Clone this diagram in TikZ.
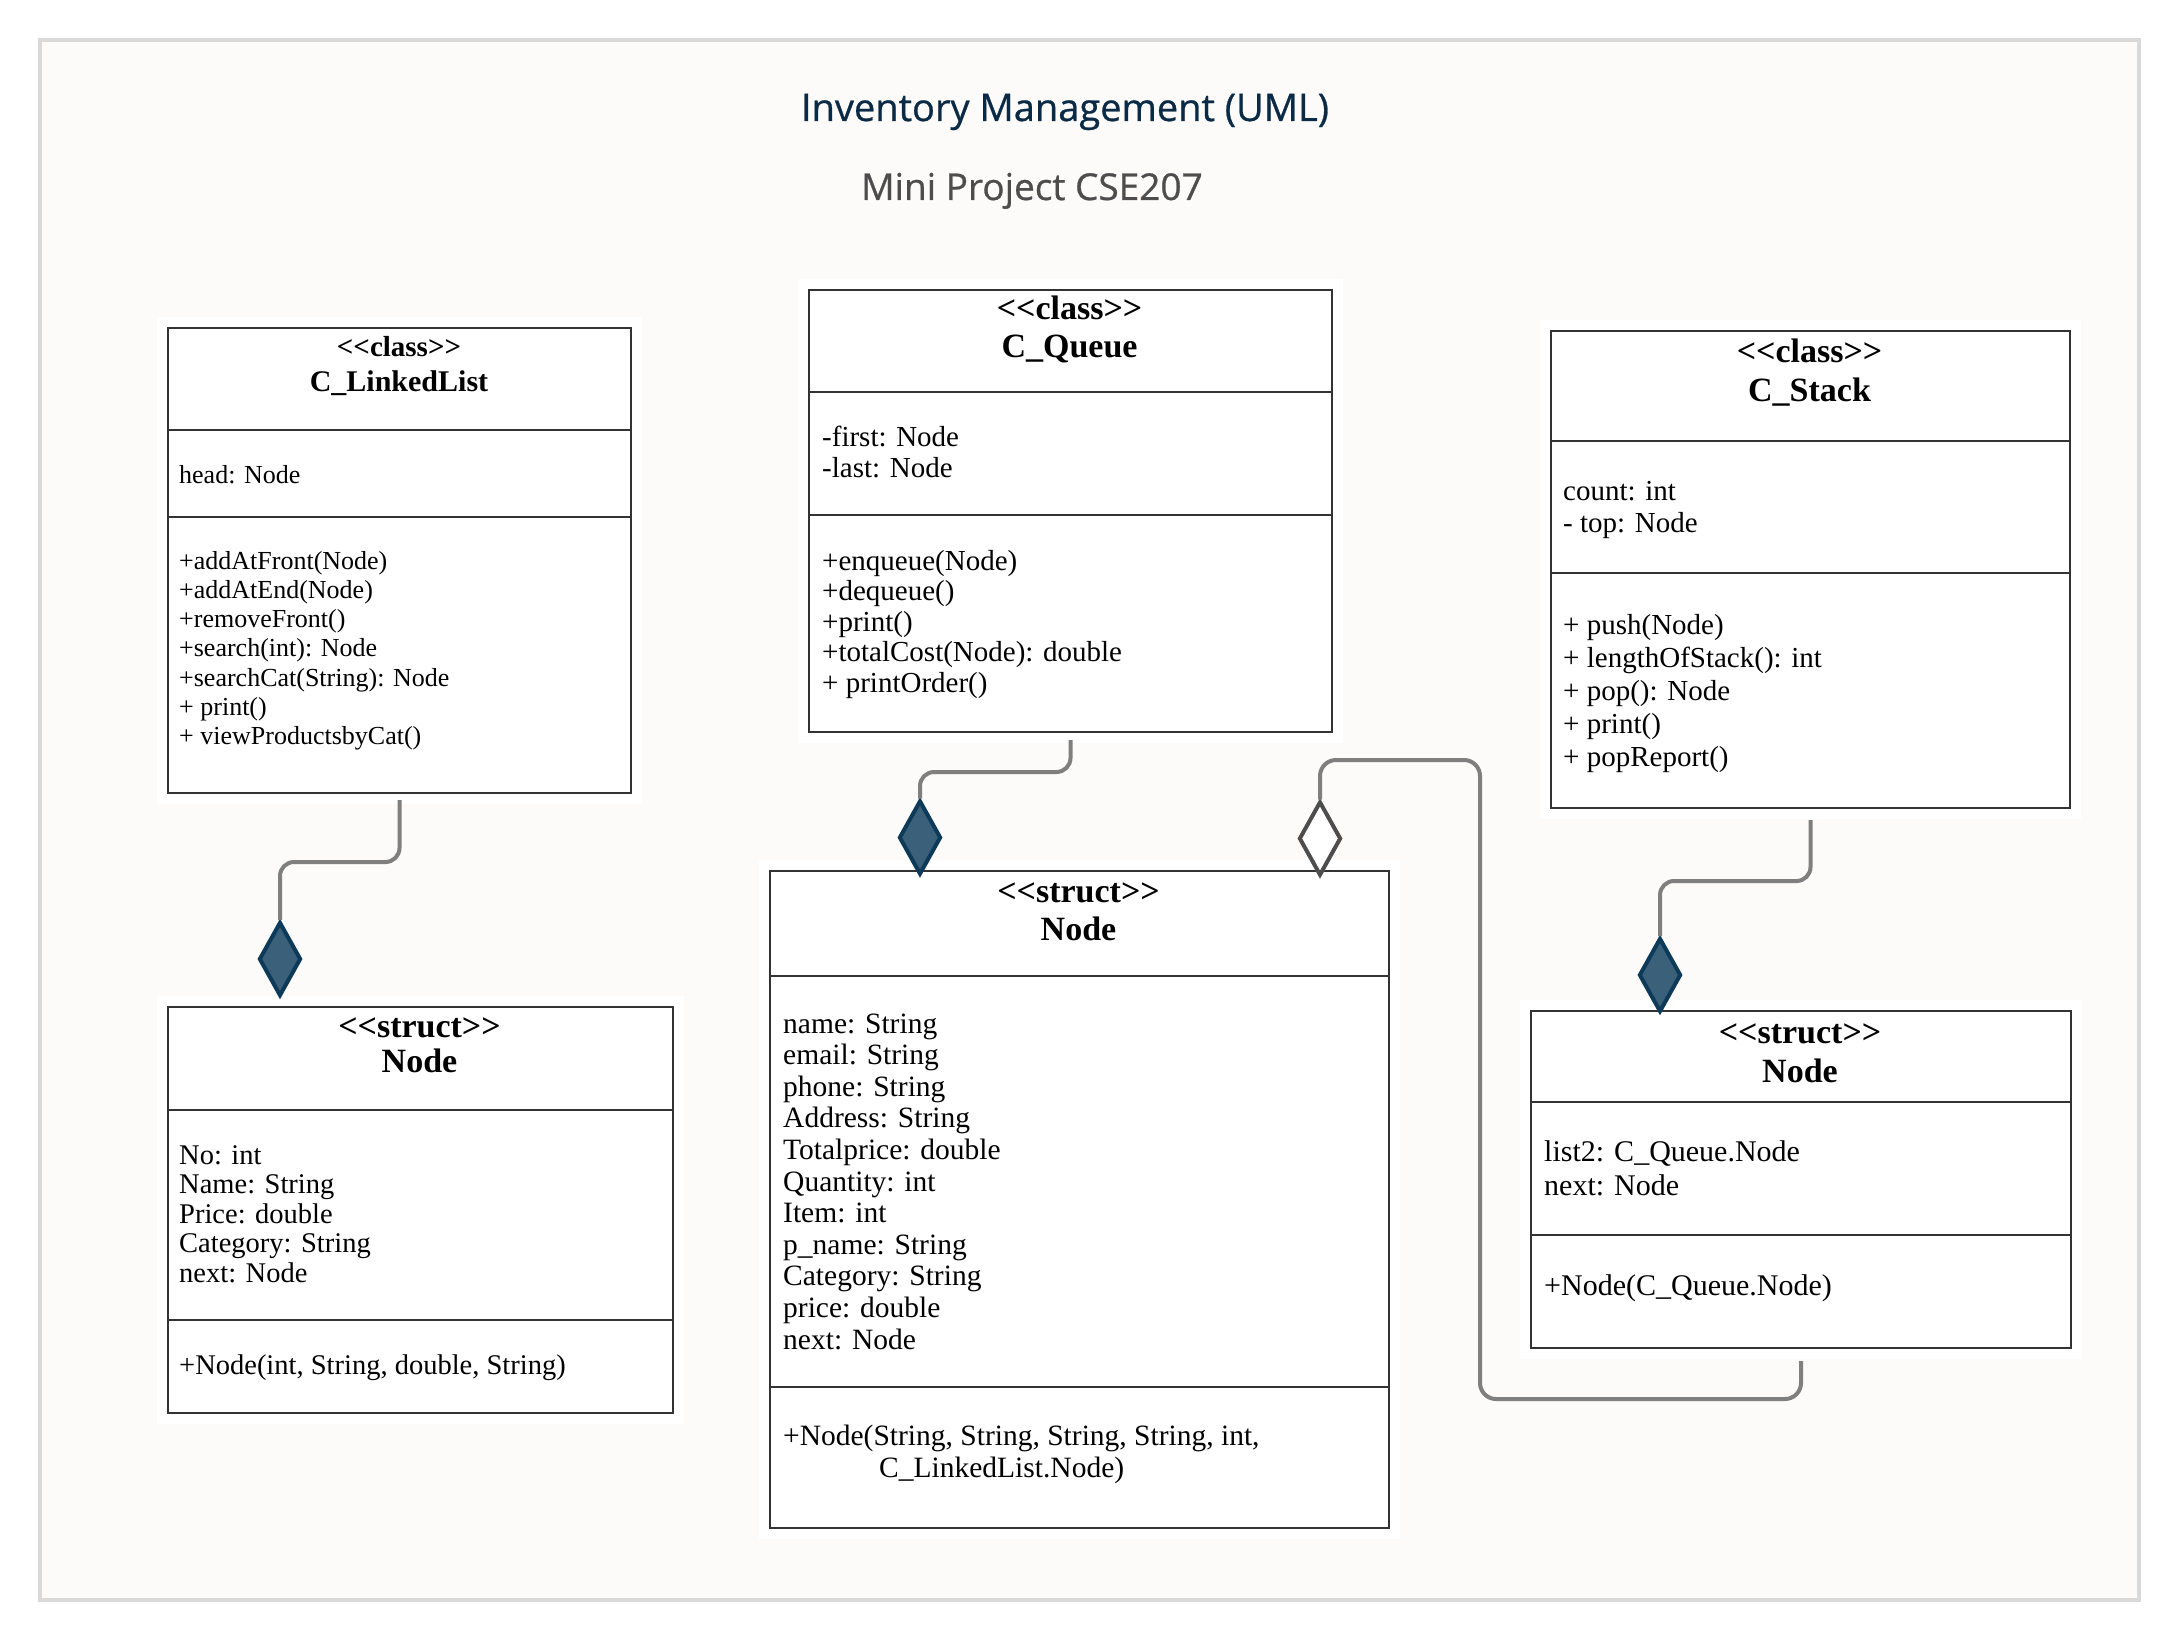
\documentclass[tikz,border=0pt]{standalone}
\usepackage{fontspec}
\setmainfont{Liberation Serif}
\newfontfamily\titlefont[FakeBold=0.7]{Open Sans}
\usetikzlibrary{shapes.geometric}
\definecolor{pagebg}{HTML}{FCFBFA}
\definecolor{framecol}{HTML}{D9D9D9}
\definecolor{boxcol}{HTML}{333333}
\definecolor{conncol}{HTML}{7F7F7F}
\definecolor{diafill}{HTML}{3B6079}
\definecolor{diadraw}{HTML}{0D3A59}
\definecolor{hollowcol}{HTML}{4D4D4D}
\definecolor{titlecol}{HTML}{0B2A45}
\definecolor{subcol}{HTML}{4D4D4D}
\newcommand\umllines[6]{\foreach \umlitem [count=\i from 0] in {#5} {\node[txtline, font=#6, anchor=base west] (#1\i) at ({#2},{#3+#4*\i}) {\umlitem};}}
\newcommand\stereo[1]{<{}<#1>{}>}
\tikzset{
  umlbox/.style={draw=boxcol, line width=2pt, fill=white, preaction={draw=white, line width=22pt}, inner sep=0pt, anchor=north west},
  divline/.style={draw=boxcol, line width=2pt},
  txtline/.style={inner sep=0pt, text=black},
  hdr/.style={inner sep=0pt, anchor=base, font=\bfseries\fontsize{34}{34}\selectfont},
  conn/.style={draw=conncol, line width=4pt, rounded corners=14pt},
  filleddia/.style={diamond, draw=diadraw, fill=diafill, line width=4pt, minimum width=42pt, minimum height=74pt, inner sep=0pt},
  hollowdia/.style={diamond, draw=hollowcol, fill=white, line width=4pt, minimum width=42pt, minimum height=74pt, inner sep=0pt}
}
\begin{document}
\begin{tikzpicture}[x=1pt,y=-1pt]
\useasboundingbox (0,0) rectangle (2181,1640);
\fill[white] (0,0) rectangle (2181,1640);
\draw[draw=framecol, fill=pagebg, line width=4pt] (40,40) rectangle (2139,1600);

% titles
\node[inner sep=0pt, anchor=base, text=titlecol, font=\titlefont\fontsize{38}{40}\selectfont] (title) at (1065,121) {Inventory Management (UML)};
\node[inner sep=0pt, anchor=base, text=subcol, font=\titlefont\fontsize{37}{40}\selectfont] (subtitle) at (1032,200) {Mini Project CSE207};

% C_LinkedList
\node[umlbox, minimum width=463pt, minimum height=465pt] (ll) at (167,327) {};
\draw[divline] (ll.west |- 0,430) -- (ll.east |- 0,430);
\draw[divline] (ll.west |- 0,517) -- (ll.east |- 0,517);
\node[hdr, font=\bfseries\fontsize{29}{30}\selectfont] (llst) at (399,356) {\stereo{class}};
\node[hdr, font=\bfseries\fontsize{30}{30}\selectfont] (llnm) at (399,391) {C\_LinkedList};
\umllines{lla}{179}{483}{29.3}{head: Node}{\fontsize{26}{28}\selectfont}
\umllines{llm}{179}{569}{29.3}{+addAtFront(Node),+addAtEnd(Node),+removeFront(),+search(int): Node,+searchCat(String): Node,+ print(),+ viewProductsbyCat()}{\fontsize{26}{28}\selectfont}

% C_Queue
\node[umlbox, minimum width=523pt, minimum height=442pt] (q) at (808,289) {};
\draw[divline] (q.west |- 0,392) -- (q.east |- 0,392);
\draw[divline] (q.west |- 0,515) -- (q.east |- 0,515);
\node[hdr] (qst) at (1069.5,319) {\stereo{class}};
\node[hdr] (qnm) at (1069.5,357) {C\_Queue};
\umllines{qa}{822}{446}{31}{-first: Node,-last: Node}{\fontsize{29}{30}\selectfont}
\umllines{qm}{822}{570}{30.6}{+enqueue(Node),+dequeue(),+print(),+totalCost(Node): double,+ printOrder()}{\fontsize{29}{30}\selectfont}

% C_Stack
\node[umlbox, minimum width=519pt, minimum height=477pt] (st) at (1550,330) {};
\draw[divline] (st.west |- 0,441) -- (st.east |- 0,441);
\draw[divline] (st.west |- 0,573) -- (st.east |- 0,573);
\node[hdr] (stst) at (1809.5,362) {\stereo{class}};
\node[hdr] (stnm) at (1809.5,401) {C\_Stack};
\umllines{sta}{1563}{500}{32}{count: int,- top: Node}{\fontsize{29}{30}\selectfont}
\umllines{stm}{1563}{634}{33}{+ push(Node),+ lengthOfStack(): int,+ pop(): Node,+ print(),+ popReport()}{\fontsize{29}{30}\selectfont}

% Node (left)
\node[umlbox, minimum width=505pt, minimum height=406pt] (nl) at (167,1006) {};
\draw[divline] (nl.west |- 0,1110) -- (nl.east |- 0,1110);
\draw[divline] (nl.west |- 0,1320) -- (nl.east |- 0,1320);
\node[hdr] (nlst) at (419.5,1037) {\stereo{struct}};
\node[hdr] (nlnm) at (419.5,1072) {Node};
\umllines{nla}{179}{1164}{29.6}{No: int,Name: String,Price: double,Category: String,next: Node}{\fontsize{28.5}{30}\selectfont}
\umllines{nlm}{179}{1374}{29.6}{{+Node(int, String, double, String)}}{\fontsize{28.5}{30}\selectfont}

% Node (centre)
\node[umlbox, minimum width=619pt, minimum height=657pt] (nc) at (769,870) {};
\draw[divline] (nc.west |- 0,976) -- (nc.east |- 0,976);
\draw[divline] (nc.west |- 0,1387) -- (nc.east |- 0,1387);
\node[hdr] (ncst) at (1078.5,902) {\stereo{struct}};
\node[hdr] (ncnm) at (1078.5,940) {Node};
\umllines{nca}{783}{1033}{31.6}{name: String,email: String,phone: String,Address: String,Totalprice: double,Quantity: int,Item: int,p\_name: String,Category: String,price: double,next: Node}{\fontsize{29.5}{31}\selectfont}
\node[txtline, anchor=base west, font=\fontsize{29.5}{31}\selectfont] (ncm0) at (783,1445) {+Node(String, String, String, String, int,};
\node[txtline, anchor=base west, font=\fontsize{29.5}{31}\selectfont] (ncm1) at (879,1477) {C\_LinkedList.Node)};

% Node (right)
\node[umlbox, minimum width=540pt, minimum height=337pt] (nr) at (1530,1010) {};
\draw[divline] (nr.west |- 0,1102) -- (nr.east |- 0,1102);
\draw[divline] (nr.west |- 0,1235) -- (nr.east |- 0,1235);
\node[hdr] (nrst) at (1800,1043) {\stereo{struct}};
\node[hdr] (nrnm) at (1800,1082) {Node};
\umllines{nra}{1544}{1161}{34}{list2: C\_Queue.Node,next: Node}{\fontsize{30}{31}\selectfont}
\umllines{nrm}{1544}{1295}{34}{+Node(C\_Queue.Node)}{\fontsize{30}{31}\selectfont}

% diamonds
\node[filleddia] (d1) at (280,959) {};
\node[filleddia] (d2) at (920,837.5) {};
\node[hollowdia] (d3) at (1320,838.5) {};
\node[filleddia] (d4) at (1660,975) {};

% connectors
\draw[conn] ([yshift=-6pt]ll.south) -- ++(0,62) -| (d1.north);
\draw[conn] ([yshift=-7pt]q.south) -- ++(0,32) -| (d2.north);
\draw[conn] ([yshift=-11pt]st.south) -- ++(0,61) -| (d4.north);
\coordinate (k1) at (1480,1399);
\coordinate (k2) at (1480,760);
\draw[conn, rounded corners=16pt] ([yshift=-12pt]nr.south) |- (k1) -- (k2) -| (d3.north);
\end{tikzpicture}
\end{document}
